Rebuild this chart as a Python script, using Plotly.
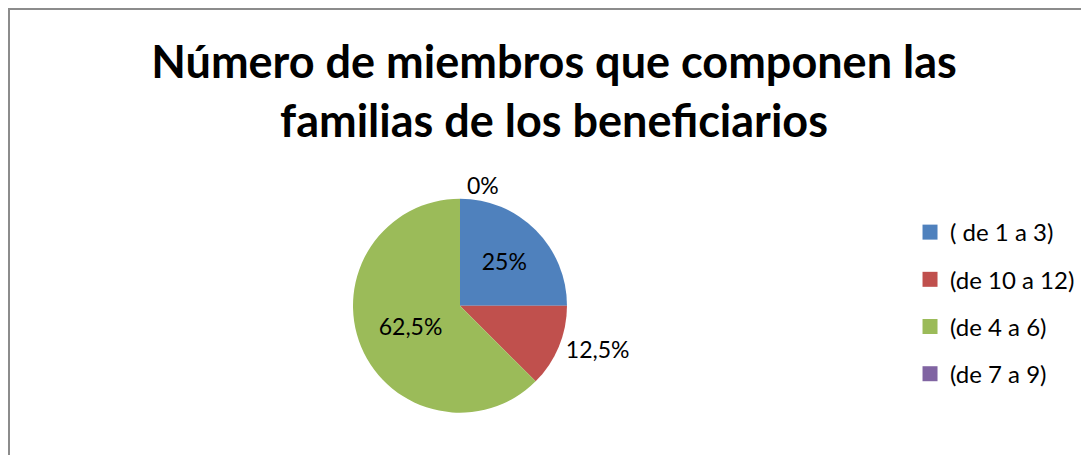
import plotly.graph_objects as go

categories = ["( de 1 a 3)", "(de 10 a 12)", "(de 4 a 6)", "(de 7 a 9)"]
values = [25, 12.5, 62.5, 0]
value_labels = ["25%", "12,5%", "62,5%", "0%"]
label_positions = ["inside", "outside", "inside", "outside"]
colors = ["#4F81BD", "#C0504D", "#9BBB59", "#8064A2"]

title = "Número de miembros que componen las<br>familias de los beneficiarios"
font = "Lato, Open Sans, sans-serif"

fig = go.Figure()

fig.add_trace(go.Pie(
    labels=categories,
    values=values,
    text=value_labels,
    textinfo="text",
    textposition=label_positions,
    sort=False,
    direction="clockwise",
    rotation=0,
    marker=dict(colors=colors, line=dict(width=0)),
    textfont=dict(family=font, size=23, color="black"),
    insidetextorientation="horizontal",
    domain=dict(x=[0.3168, 0.5133], y=[0.1105, 0.581]),
    showlegend=False,
    hoverinfo="label+percent",
))

# legend entries (square swatches, spaced like the original)
for i, (cat, col) in enumerate(zip(categories, colors)):
    fig.add_trace(go.Scatter(
        x=[None], y=[None], mode="markers", name=cat,
        marker=dict(symbol="square", size=15, color=col),
        legendgroup=str(i), showlegend=True,
    ))

fig.update_layout(
    width=1089, height=455,
    margin=dict(l=0, r=0, t=0, b=0),
    paper_bgcolor="white", plot_bgcolor="white",
    title=dict(text=title, x=0.5014, xanchor="center", y=0.846, yanchor="middle",
               font=dict(family=font, size=45, color="black", weight="bold")),
    xaxis=dict(visible=False), yaxis=dict(visible=False),
    legend=dict(x=0.8283, y=0.556, xanchor="left", yanchor="top",
                font=dict(family=font, size=24, color="black"),
                tracegroupgap=13, itemwidth=30, bgcolor="rgba(0,0,0,0)"),
    shapes=[dict(type="rect", xref="paper", yref="paper",
                 x0=1 / 1089, x1=1.05, y0=-0.05, y1=1 - 1 / 455,
                 line=dict(color="#8c8c8c", width=2))],
)

fig.write_html("out.html")
